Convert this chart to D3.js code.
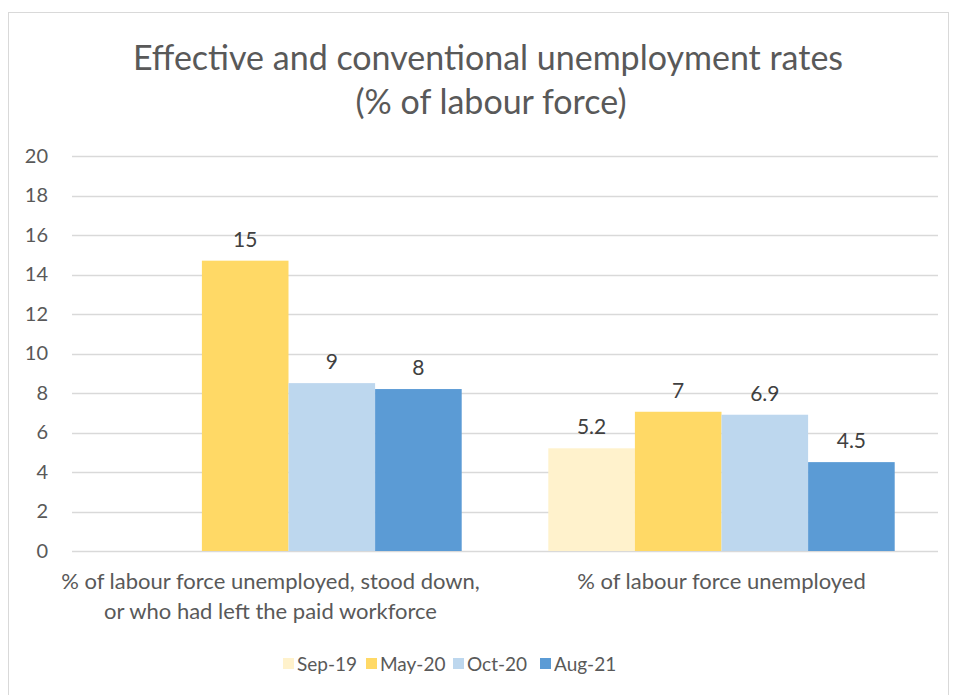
<!DOCTYPE html>
<html>
<head>
<meta charset="UTF-8">
<title>Effective and conventional unemployment rates</title>
<script src="https://cdn.jsdelivr.net/npm/d3@7"></script>
<style>
body { margin: 0; background: #fff; }
text { font-family: Lato, "Open Sans", sans-serif; }
</style>
</head>
<body>
<div id="chart"></div>
<script>
// data
var categories = ["% of labour force unemployed, stood down, or who had left the paid workforce",
                  "% of labour force unemployed"];
var categoryLines = [["% of labour force unemployed, stood down,", "or who had left the paid workforce"],
                     ["% of labour force unemployed"]];
var series = ["Sep-19", "May-20", "Oct-20", "Aug-21"];
var sep19 = [null, 5.2];
var may20 = [14.7, 7.05];
var oct20 = [8.5, 6.9];
var aug21 = [8.2, 4.5];
var labels = [[null, "5.2"], ["15", "7"], ["9", "6.9"], ["8", "4.5"]];
var yTicks = [0, 2, 4, 6, 8, 10, 12, 14, 16, 18, 20];
var colors = ["#FFF2CC", "#FFD966", "#BDD7EE", "#5B9BD5"];

var values = [sep19, may20, oct20, aug21];

var width = 955, height = 695;
var plot = { left: 72, right: 938, top: 156, bottom: 551 };

var svg = d3.select("#chart").append("svg")
  .attr("width", width)
  .attr("height", height);

// frame
svg.append("rect")
  .attr("x", 8.5).attr("y", 12.5)
  .attr("width", 940).attr("height", 700)
  .attr("fill", "#fff")
  .attr("stroke", "#D9D9D9");

// title
var title = svg.append("text")
  .attr("text-anchor", "middle")
  .attr("fill", "#595959")
  .attr("font-size", "34px");
title.append("tspan").attr("x", 488).attr("y", 70).text("Effective and conventional unemployment rates");
title.append("tspan").attr("x", 491).attr("y", 114).text("(% of labour force)");

var x0 = d3.scaleBand()
  .domain(categories)
  .range([plot.left, plot.right])
  .paddingInner(0.2)
  .paddingOuter(0.1);

var x1 = d3.scaleBand()
  .domain(series)
  .range([0, x0.bandwidth()]);

var y = d3.scaleLinear()
  .domain([0, 20])
  .range([plot.bottom, plot.top]);

// gridlines
svg.append("g")
  .selectAll("line")
  .data(yTicks)
  .enter().append("line")
  .attr("x1", plot.left).attr("x2", plot.right)
  .attr("y1", function(d) { return Math.round(y(d)) + 0.5; })
  .attr("y2", function(d) { return Math.round(y(d)) + 0.5; })
  .attr("stroke", "#D9D9D9")
  .attr("stroke-width", 1.5);

// y axis
var yAxis = d3.axisLeft(y).tickValues(yTicks).tickSize(0).tickPadding(24);
var gy = svg.append("g")
  .attr("transform", "translate(" + plot.left + ",0)")
  .call(yAxis);
gy.select(".domain").remove();
gy.selectAll("text")
  .attr("fill", "#595959")
  .attr("font-size", "20px")
  .attr("font-family", "Lato, 'Open Sans', sans-serif");

// bars
series.forEach(function(s, si) {
  var g = svg.append("g");
  categories.forEach(function(c, ci) {
    var v = values[si][ci];
    if (v == null) return;
    var bx = x0(c) + x1(s);
    g.append("rect")
      .attr("x", bx)
      .attr("y", y(v))
      .attr("width", x1.bandwidth())
      .attr("height", y(0) - y(v))
      .attr("fill", colors[si]);
    g.append("text")
      .attr("x", bx + x1.bandwidth() / 2)
      .attr("y", y(v) - 14)
      .attr("text-anchor", "middle")
      .attr("fill", "#404040")
      .attr("font-size", "21px")
      .text(labels[si][ci]);
  });
});

// category labels
categories.forEach(function(c, ci) {
  var t = svg.append("text")
    .attr("text-anchor", "middle")
    .attr("fill", "#595959")
    .attr("font-size", "22px");
  categoryLines[ci].forEach(function(line, li) {
    t.append("tspan")
      .attr("x", x0(c) + x0.bandwidth() / 2 - (ci == 0 ? 18 : 0))
      .attr("y", 589 + li * 30)
      .text(line);
  });
});

// legend
var legendX = [283, 366, 453, 540];
var legend = svg.append("g");
series.forEach(function(s, si) {
  var item = legend.append("g")
    .attr("transform", "translate(" + legendX[si] + ",664)");
  item.append("rect")
    .attr("x", 0).attr("y", -6)
    .attr("width", 11).attr("height", 11)
    .attr("fill", colors[si]);
  item.append("text")
    .attr("x", 14).attr("y", 7)
    .attr("fill", "#595959")
    .attr("font-size", "19px")
    .text(s);
});
</script>
</body>
</html>
